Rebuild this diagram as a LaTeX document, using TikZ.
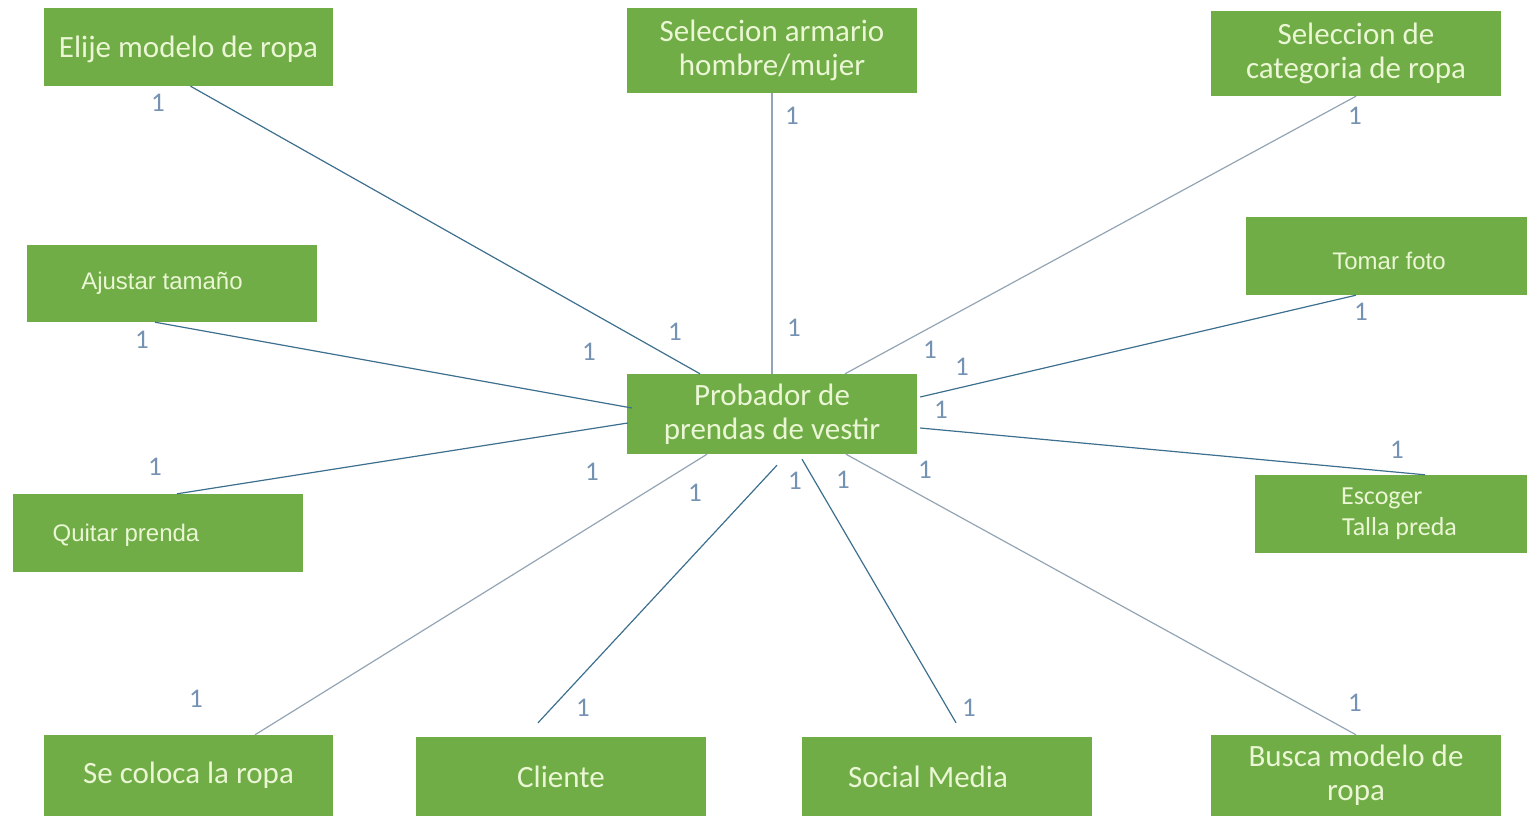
\documentclass[tikz,border=0pt]{standalone}
\usepackage{fontspec}
\setmainfont{Carlito}
\newfontfamily\arialfont{Liberation Sans}
\usetikzlibrary{calc}
\definecolor{boxgreen}{HTML}{70AD47}
\definecolor{boxtext}{HTML}{EAF6D4}
\definecolor{linkdark}{HTML}{3D6F8E}
\definecolor{linklight}{HTML}{93A5B4}
\definecolor{multcol}{HTML}{7592B2}
\newcommand{\lowered}[2]{\raisebox{-#1}[\height][\depth]{#2}}
\tikzset{
  entity/.style={fill=boxgreen, draw=none, text=boxtext, inner sep=0pt,
    align=center, font=\fontsize{31}{34}\selectfont},
  arialbox/.style={entity, font=\arialfont\fontsize{24}{28}\selectfont},
  mult/.style={text=multcol, inner sep=0pt, font=\fontsize{27}{30}\selectfont},
  linkd/.style={draw=linkdark, line width=1.2pt},
  linkl/.style={draw=linklight, line width=1.2pt},
}
\begin{document}
\begin{tikzpicture}[x=1pt, y=-1pt]
\useasboundingbox (0,0) rectangle (1527,816);

% entities
\node[entity, minimum width=289, minimum height=78] (elije) at (188.5,47) {\lowered{2pt}{Elije modelo de ropa}};
\node[entity, minimum width=290, minimum height=85] (armario) at (772,50.5) {Seleccion armario\\hombre/mujer};
\node[entity, minimum width=290, minimum height=85] (categ) at (1356,53.5) {Seleccion de\\categoria de ropa};
\node[arialbox, minimum width=281, minimum height=78] (foto) at (1386.5,256) {\lowered{5pt}{Tomar foto}\hspace*{-5pt}};
\node[arialbox, minimum width=290, minimum height=77] (ajustar) at (172,283.5) {Ajustar tamaño\hspace*{20pt}};
\node[entity, minimum width=290, minimum height=80] (prob) at (772,414) {Probador de\\prendas de vestir};
\node[entity, minimum width=272, minimum height=78, align=left,
      font=\fontsize{26}{31}\selectfont] (escoger) at (1391,514) {\hspace*{-1pt}Escoger\\Talla preda\hspace*{-17pt}};
\node[arialbox, minimum width=290, minimum height=78] (quitar) at (158,533) {\lowered{2pt}{Quitar prenda}\hspace*{64pt}};
\node[entity, minimum width=289, minimum height=81] (coloca) at (188.5,775.5) {Se coloca la ropa};
\node[entity, minimum width=290, minimum height=79] (cliente) at (561,776.5) {Cliente};
\node[entity, minimum width=290, minimum height=79] (social) at (947,776.5) {Social Media\hspace*{38pt}};
\node[entity, minimum width=290, minimum height=81] (busca) at (1356,775.5) {Busca modelo de\\ropa};

% relationships
\draw[linkd] ([xshift=2pt]elije.south) -- ([xshift=-72pt]prob.north);
\draw[linkl] (armario.south) -- (prob.north);
\draw[linkl] (categ.south) -- ([xshift=73pt]prob.north);
\draw[linkd] ([xshift=-30.5pt]foto.south) -- ([xshift=3pt,yshift=17pt]prob.east);
\draw[linkd] ([xshift=-17pt]ajustar.south) -- ([xshift=5pt,yshift=6pt]prob.west);
\draw[linkd] ([xshift=19pt]quitar.north) -- ([xshift=1pt,yshift=-9pt]prob.west);
\draw[linkd] ([xshift=3pt,yshift=-14pt]prob.east) -- ([xshift=34pt]escoger.north);
\draw[linkl] ([xshift=66.5pt]coloca.north) -- ([xshift=-65pt]prob.south);
\draw[linkd] ([xshift=-23pt,yshift=14pt]cliente.north) -- ([xshift=5pt,yshift=-11pt]prob.south);
\draw[linkd] ([xshift=9pt,yshift=14pt]social.north) -- ([xshift=30pt,yshift=-5pt]prob.south);
\draw[linkl] (busca.north) -- ([xshift=74pt]prob.south);

% multiplicities
\node[mult] (m1)  at (158,103) {1};
\node[mult] (m2)  at (675,332) {1};
\node[mult] (m3)  at (792,116) {1};
\node[mult] (m4)  at (794,328) {1};
\node[mult] (m5)  at (1355,116) {1};
\node[mult] (m6)  at (930,350) {1};
\node[mult] (m7)  at (1361,312) {1};
\node[mult] (m8)  at (962,367) {1};
\node[mult] (m9)  at (142,340) {1};
\node[mult] (m10) at (589,352) {1};
\node[mult] (m11) at (155,467) {1};
\node[mult] (m12) at (592,472) {1};
\node[mult] (m13) at (1397,450) {1};
\node[mult] (m14) at (941,410) {1};
\node[mult] (m15) at (196,699) {1};
\node[mult] (m16) at (695,493) {1};
\node[mult] (m17) at (583,708) {1};
\node[mult] (m18) at (795,481) {1};
\node[mult] (m19) at (969,708) {1};
\node[mult] (m20) at (843,480) {1};
\node[mult] (m21) at (1355,703) {1};
\node[mult] (m22) at (925,470) {1};
\end{tikzpicture}
\end{document}
